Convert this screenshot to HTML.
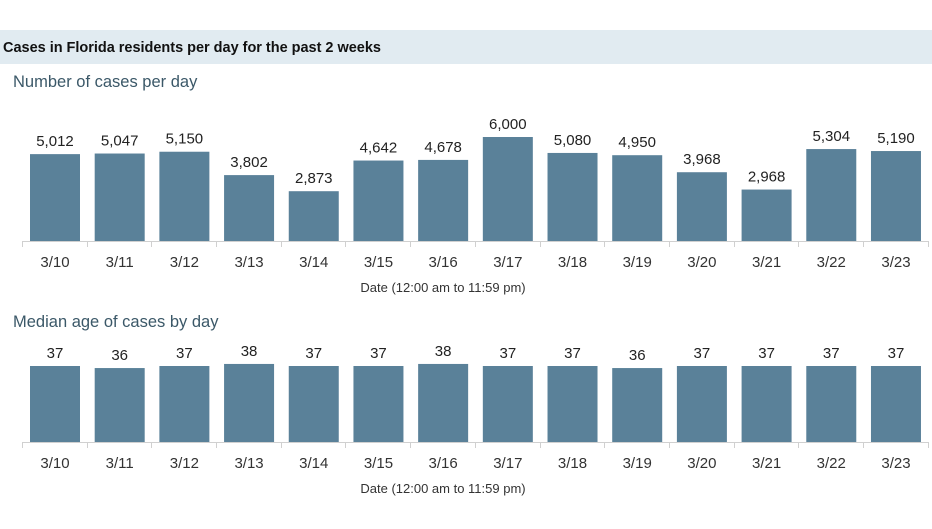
<!DOCTYPE html>
<html><head><style>
body{margin:0;background:#fff;}
svg text{font-family:"Liberation Sans",sans-serif;}
</style></head><body>
<svg width="932" height="524" xmlns="http://www.w3.org/2000/svg">
<rect x="0" y="30" width="932" height="34" fill="#e1ebf1"/>
<text x="3" y="52" font-size="14.5" font-weight="bold" fill="#111" textLength="378">Cases in Florida residents per day for the past 2 weeks</text>
<text x="13" y="87" font-size="16.5" fill="#3b5868">Number of cases per day</text>
<text x="13" y="327" font-size="16.5" fill="#3b5868">Median age of cases by day</text>
</svg>
<script>
var s=document.querySelector('svg'),ns='http://www.w3.org/2000/svg';
function el(t,a,txt){var e=document.createElementNS(ns,t);for(var k in a)e.setAttribute(k,a[k]);if(txt!=null)e.textContent=txt;s.appendChild(e);}
var d=['3/10','3/11','3/12','3/13','3/14','3/15','3/16','3/17','3/18','3/19','3/20','3/21','3/22','3/23'];
var c=[5012,5047,5150,3802,2873,4642,4678,6000,5080,4950,3968,2968,5304,5190];
var a=[37,36,37,38,37,37,38,37,37,36,37,37,37,37];
var st=64.69;
function chart(vals,base,scale,fmt){
 el('line',{x1:22,x2:929,y1:base+0.5,y2:base+0.5,stroke:'#d0d0d0','stroke-width':1});
 for(var i=0;i<=14;i++){var x=Math.round(22+i*st)+0.5;el('line',{x1:x,x2:x,y1:base,y2:base+6,stroke:'#d0d0d0'});}
 vals.forEach(function(v,i){
  var x=30+i*st,h=v*scale;
  el('rect',{x:x,y:base-h,width:50,height:h,fill:'#5a8199'});
  el('text',{x:x+25,y:base-h-8,'font-size':15,'text-anchor':'middle',fill:'#222'},fmt(v));
  el('text',{x:x+25,y:base+26,'font-size':15,'text-anchor':'middle',fill:'#333'},d[i]);
 });
 el('text',{x:443,y:base+51,'font-size':13,'text-anchor':'middle',fill:'#333'},'Date (12:00 am to 11:59 pm)');
}
chart(c,241,104/6000,function(v){return v.toLocaleString('en-US');});
chart(a,442,76/37,function(v){return ''+v;});
</script>
</body></html>
